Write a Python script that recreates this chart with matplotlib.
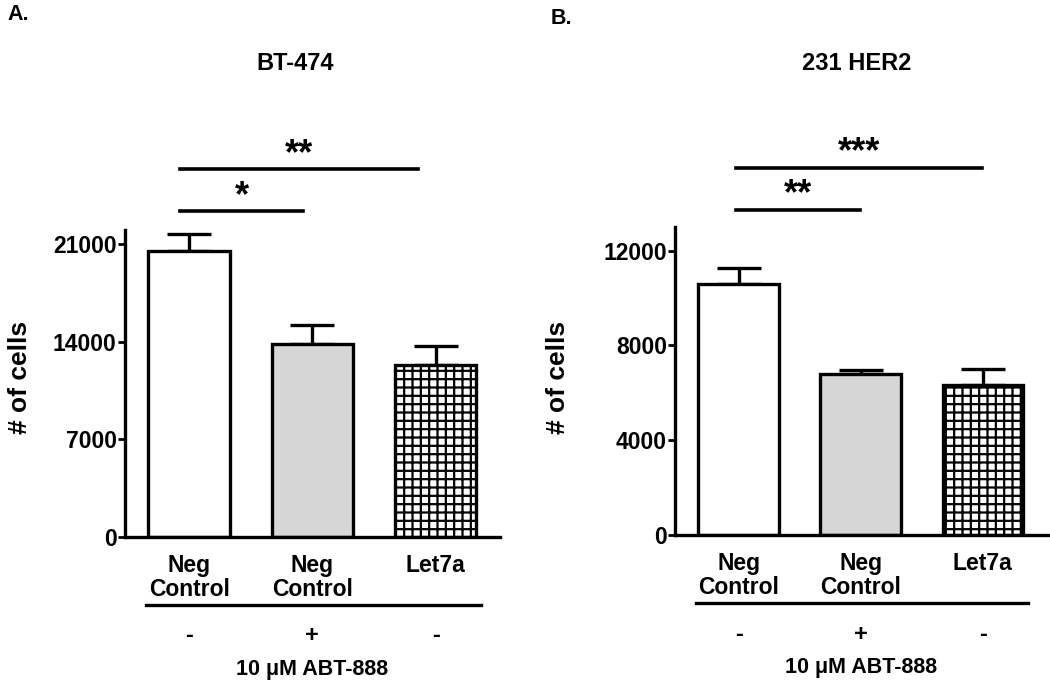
import matplotlib
matplotlib.use('Agg')
import matplotlib.pyplot as plt

plt.rcParams['font.family'] = ['Liberation Sans', 'DejaVu Sans']
plt.rcParams['font.weight'] = 'bold'
plt.rcParams['hatch.linewidth'] = 1.6

groups = ['Neg\nControl', 'Neg\nControl', 'Let7a']
abt = ['-', '+', '-']

bt474_mean = [20500, 13800, 12300]
bt474_err = [1200, 1400, 1400]
bt474_ticks = [0, 7000, 14000, 21000]

her2_mean = [10600, 6800, 6340]
her2_err = [680, 170, 670]
her2_ticks = [0, 4000, 8000, 12000]

# significance brackets: (x0, x1, y, label, label y)
bt474_sig = [(-0.07, 0.92, 23350, '*', 24400), (-0.07, 1.86, 26350, '**', 27400)]
her2_sig = [(-0.02, 0.99, 13700, '**', 14350), (-0.02, 1.99, 15500, '***', 16150)]

fig = plt.figure(figsize=(10.5, 6.89), dpi=100)
ax1 = fig.add_axes([0.119, 0.2206, 0.357, 0.4456])
ax2 = fig.add_axes([0.643, 0.2235, 0.357, 0.447])

def draw(ax, mean, err, ticks, ymax, sig):
    x = range(len(mean))
    faces = ['white', '#d6d6d6', 'white']
    hatches = [None, None, '++']
    bars = ax.bar(x, mean, width=0.66, color=faces, edgecolor='black', linewidth=2.4, zorder=2)
    for b, h in zip(bars, hatches):
        if h:
            b.set_hatch(h)
    ax.errorbar(x, mean, yerr=[[0] * len(mean), err], fmt='none', ecolor='black',
                elinewidth=2.4, capsize=16, capthick=2.4, zorder=1)
    ax.set_xlim(-0.52, 2.52)
    ax.set_ylim(0, ymax)
    ax.set_yticks(ticks)
    ax.set_yticklabels([str(t) for t in ticks], fontsize=16.5, fontweight='bold')
    ax.set_xticks(list(x))
    ax.set_xticklabels(groups, fontsize=16.5, fontweight='bold', linespacing=1.1)
    ax.tick_params(axis='x', length=0, pad=12)
    ax.tick_params(axis='y', length=5, width=2, pad=1)
    for s in ['top', 'right']:
        ax.spines[s].set_visible(False)
    for s in ['left', 'bottom']:
        ax.spines[s].set_linewidth(2.4)
    tr = ax.get_xaxis_transform()
    ax.plot([-0.35, 2.37], [-0.221, -0.221], color='black', lw=2.4, transform=tr, clip_on=False)
    for i, s in enumerate(abt):
        ax.text(i, -0.322, s, transform=tr, ha='center', va='center', fontsize=17, fontweight='bold')
    ax.text(1, -0.43, '10 \u03bcM ABT-888', transform=tr, ha='center', va='center',
            fontsize=15.5, fontweight='bold')
    for x0, x1, y, lab, ly in sig:
        ax.plot([x0, x1], [y, y], color='black', lw=2.6, clip_on=False)
        ax.text((x0 + x1) / 2, ly, lab, ha='center', va='center', fontsize=26, fontweight='bold')

draw(ax1, bt474_mean, bt474_err, bt474_ticks, 22000, bt474_sig)
draw(ax2, her2_mean, her2_err, her2_ticks, 13000, her2_sig)
ax2.set_xlim(-0.52, 2.55)

fig.text(295 / 1050, 1 - 63 / 689, 'BT-474', ha='center', va='center', fontsize=17, fontweight='bold')
fig.text(857 / 1050, 1 - 63 / 689, '231 HER2', ha='center', va='center', fontsize=17, fontweight='bold')
fig.text(7 / 1050, 1 - 15 / 689, 'A.', ha='left', va='center', fontsize=15.5, fontweight='bold')
fig.text(551 / 1050, 1 - 18 / 689, 'B.', ha='left', va='center', fontsize=15.5, fontweight='bold')
fig.text(20 / 1050, 1 - 377 / 689, '# of cells', rotation=90, ha='center', va='center',
         fontsize=19, fontweight='bold')
fig.text(558 / 1050, 1 - 377 / 689, '# of cells', rotation=90, ha='center', va='center',
         fontsize=19, fontweight='bold')

fig.savefig('out.png', dpi=100)
